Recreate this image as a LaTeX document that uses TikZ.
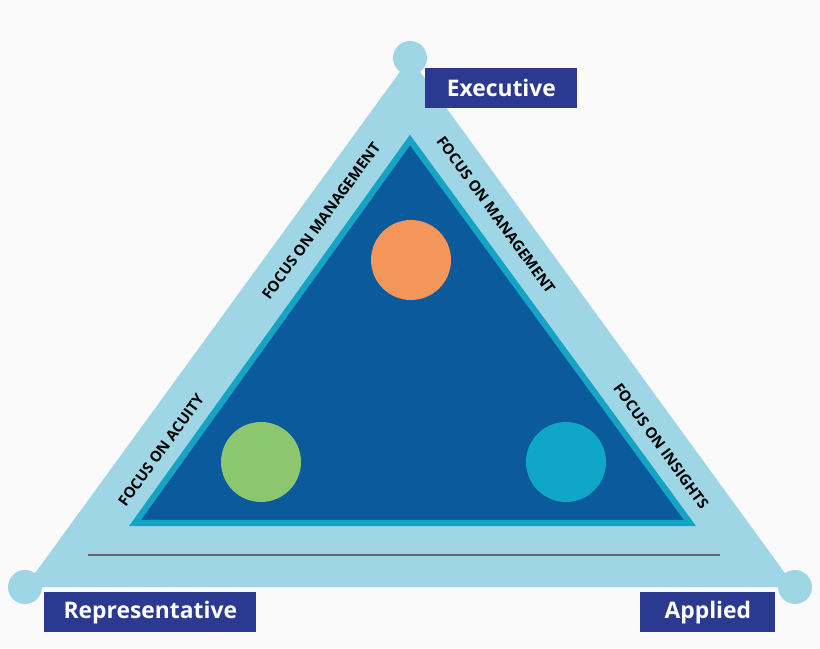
\documentclass[tikz,border=0pt]{standalone}
\usepackage{fontspec}
\setmainfont{Open Sans}
\usetikzlibrary{positioning}
\definecolor{outerblue}{HTML}{9ED6E6}
\definecolor{innerblue}{HTML}{0A5A9C}
\definecolor{rimblue}{HTML}{17A3C4}
\definecolor{navy}{HTML}{2B3990}
\definecolor{orangedot}{HTML}{F4955A}
\definecolor{greendot}{HTML}{8CC66E}
\definecolor{tealdot}{HTML}{10A6C8}
\tikzset{
  role/.style={fill=navy, text=white, font=\fontsize{13}{15}\selectfont\bfseries, inner sep=0pt, anchor=north west},
  side/.style={font=\fontsize{8.5}{10}\selectfont\bfseries, text=black, inner sep=1pt},
  dot/.style={circle, minimum size=1.6cm, inner sep=0pt}
}
\begin{document}
\begin{tikzpicture}[x=0.02cm, y=-0.02cm]
  \useasboundingbox[fill=white!96!gray] (0,0) rectangle (820,648);

  % outer triangle with corner discs
  \coordinate (top) at (410,58);
  \coordinate (left) at (25,587);
  \coordinate (right) at (795,587);
  \fill[outerblue] (top) -- (left) -- (right) -- cycle;
  \foreach \c in {top,left,right}
    \fill[outerblue] (\c) circle (17);

  % inner triangle
  \coordinate (itop) at (410,140);
  \coordinate (ileft) at (135,523);
  \coordinate (iright) at (690,523);
  \filldraw[fill=innerblue, draw=rimblue, line width=3.5pt, line join=miter] (itop) -- (ileft) -- (iright) -- cycle;

  % base line
  \coordinate (bl) at (88,555);
  \coordinate (br) at (720,555);
  \draw[gray!80!black, line width=0.8pt] (bl) -- (br);

  % dots
  \node[dot, fill=orangedot] (mgmt) at (411,260) {};
  \node[dot, fill=greendot] (acuity) at (261,462) {};
  \node[dot, fill=tealdot] (insight) at (566,462) {};

  % side labels
  \node[side, rotate=54] (acuitytext) at (161,450) {FOCUS ON ACUITY};
  \node[side, rotate=54] (lmgmttext) at (321,221) {FOCUS ON MANAGEMENT};
  \node[side, rotate=-54] (rmgmttext) at (496,215) {FOCUS ON MANAGEMENT};
  \node[side, rotate=-54] (insighttext) at (661,446) {FOCUS ON INSIGHTS};

  % role boxes
  \node[role, minimum width=152*0.02cm, minimum height=40*0.02cm] (exec) at (425,68) {Executive};
  \node[role, minimum width=212*0.02cm, minimum height=40*0.02cm] (rep) at (44,592) {Representative};
  \node[role, minimum width=135*0.02cm, minimum height=40*0.02cm] (applied) at (640,592) {Applied};
\end{tikzpicture}
\end{document}
